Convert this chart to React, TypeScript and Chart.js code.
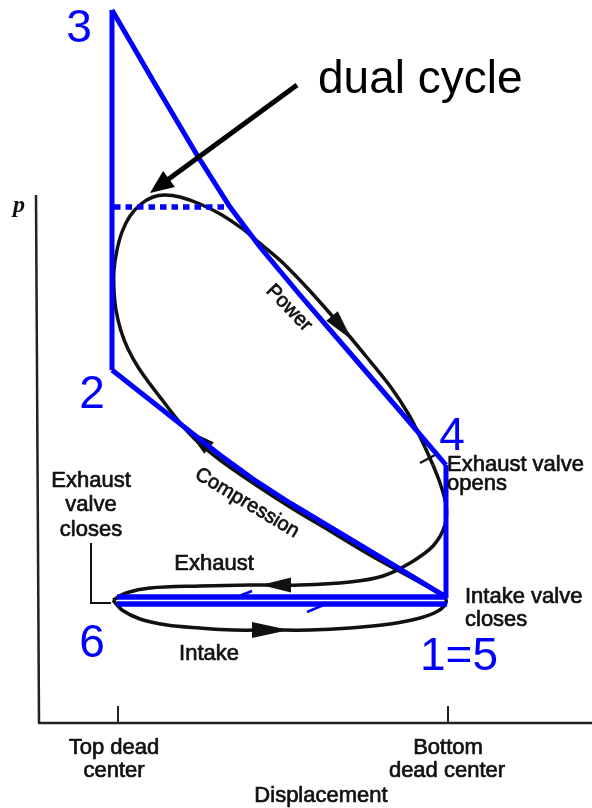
import React, { useEffect, useRef } from "react";
import { Chart, registerables } from "chart.js";

Chart.register(...registerables);

const W = 592;
const H = 808;

// ---- data (x = displacement, y = pressure; screen-like units, y axis reversed) ----
const blueCompression = [[446, 597], [390, 563], [330, 527], [290, 503], [253, 479], [220, 455], [183, 426], [150, 400], [112, 370]];
const blueConstVolume = [[112, 370], [112, 10]];
const blueExpansion = [[112, 10], [155, 84], [197, 155], [230, 207], [260, 247], [300, 295], [350, 353], [400, 411], [446, 465]];
const blueBlowdown = [[446, 465], [446, 598]];
const blueConstPressure = [[114, 207], [229, 207]];
const blueExhaustStroke = [[117, 597], [447, 597]];
const blueIntakeStroke = [[117, 604], [447, 604]];
const blueExhaustTick = [[252, 591], [234, 598]];
const blueIntakeTick = [[307, 612], [326, 604]];

const realIntake = [[113, 600], [122, 610], [140, 619], [167, 625], [200, 628], [233, 630], [270, 630], [310, 630], [350, 628], [390, 624], [420, 618], [438, 611], [446, 603], [445, 595]];
const realCompression = [[445, 595], [434, 590], [410, 577], [370, 555], [330, 531], [290, 507], [253, 483], [220, 460], [198, 442], [181, 424], [163, 401], [150, 384], [138, 367], [128, 349], [121, 331], [116, 310], [114, 290], [114, 270], [117, 250], [122, 232], [130, 216], [141, 204], [153, 197], [165, 195], [180, 197], [200, 204], [222, 215], [243, 229]];
const realPower = [[243, 229], [262, 245], [283, 263], [310, 291], [340, 325], [365, 355], [390, 386], [409, 415], [423, 443], [433, 465]];
const realExhaust = [[433, 465], [440, 483], [446, 505], [445, 525], [433, 546], [410, 563], [383, 576], [350, 582], [300, 585], [250, 585], [200, 586], [150, 588], [126, 593], [113, 600]];

const xAxisLine = [[38, 723], [592, 723]];
const yAxisLine = [[36, 195], [39, 723]];
const tdcTick = [[118, 706], [118, 723]];
const bdcTick = [[448, 706], [448, 723]];
const exhaustClosesLeader = [[91, 543], [91, 603], [111, 603]];
const exhaustOpensMark = [[420, 463], [435, 455]];
const pointerLine = [[297, 85], [166, 181]];

// arrowheads along the curves: tip / tail point, half width
const curveArrowTips = [[352, 340], [187, 430], [261, 585], [289, 630]];
const curveArrowTails = [[332, 316], [209, 448], [291, 585], [252, 630]];
const curveArrowHalfWidth = [7.5, 7.5, 7.5, 8];
const pointerTip = [150, 193];
const pointerTail = [169, 179];

// text labels
const stateLabels = ["3", "2", "4", "6", "1=5"];
const stateLabelAt = [[79, 42], [92, 408], [452, 450], [92, 657], [459, 670]];
const processLabels = ["Power", "Compression"];
const processLabelAt = [[289, 308], [247, 503]];
const processLabelAngle = [46, 31];
const strokeLabels = ["Exhaust", "Intake"];
const strokeLabelAt = [[214, 570], [209, 660]];
const valveClosesLines = ["Exhaust", "valve", "closes"];
const valveClosesAt = [[91, 487], [91, 511], [91, 536]];
const valveOpensLines = ["Exhaust valve", "opens"];
const valveOpensAt = [[447, 471], [447, 490]];
const intakeClosesLines = ["Intake valve", "closes"];
const intakeClosesAt = [[465, 603], [465, 626]];
const tickLabelLines = ["Top dead", "center", "Bottom", "dead center"];
const tickLabelAt = [[114, 754], [114, 777], [448, 754], [447, 777]];
const xTitle = "Displacement";
const xTitleAt = [321, 802];
const yTitle = "p";
const yTitleAt = [19, 212];
const calloutText = "dual cycle";
const calloutAt = [318, 93];

const BLUE = "#0000ff";
const INK = "#111111";
const SANS = '"Liberation Sans", Arial, Helvetica, sans-serif';

const pts = (a: number[][]) => a.map(([x, y]) => ({ x, y }));

function lineDs(data: number[][], color: string, width: number, extra: any = {}) {
  return {
    data: pts(data),
    showLine: true,
    borderColor: color,
    backgroundColor: color,
    borderWidth: width,
    pointRadius: 0,
    pointHoverRadius: 0,
    fill: false,
    tension: 0,
    borderCapStyle: "butt",
    borderJoinStyle: "miter",
    ...extra,
  };
}

const overlay = {
  id: "overlay",
  beforeDatasetsDraw(chart: any) {
    const { ctx, scales } = chart;
    const sx = (v: number) => scales.x.getPixelForValue(v);
    const sy = (v: number) => scales.y.getPixelForValue(v);
    ctx.save();
    ctx.fillStyle = INK;
    curveArrowTips.forEach((tip, i) => {
      const tail = curveArrowTails[i];
      const tx = sx(tip[0]), ty = sy(tip[1]);
      const bx = sx(tail[0]), by = sy(tail[1]);
      const dx = tx - bx, dy = ty - by;
      const len = Math.hypot(dx, dy);
      const nx = -dy / len, ny = dx / len;
      const w = curveArrowHalfWidth[i];
      ctx.beginPath();
      ctx.moveTo(tx, ty);
      ctx.lineTo(bx + nx * w, by + ny * w);
      ctx.lineTo(bx - nx * w, by - ny * w);
      ctx.closePath();
      ctx.fill();
    });
    ctx.restore();
  },
  afterDatasetsDraw(chart: any) {
    const { ctx, scales } = chart;
    const sx = (v: number) => scales.x.getPixelForValue(v);
    const sy = (v: number) => scales.y.getPixelForValue(v);
    ctx.save();
    // pointer arrowhead
    {
      const tx = sx(pointerTip[0]), ty = sy(pointerTip[1]);
      const bx = sx(pointerTail[0]), by = sy(pointerTail[1]);
      const dx = tx - bx, dy = ty - by;
      const len = Math.hypot(dx, dy);
      const nx = -dy / len, ny = dx / len;
      const w = 10;
      ctx.fillStyle = "#000";
      ctx.beginPath();
      ctx.moveTo(tx, ty);
      ctx.lineTo(bx + nx * w, by + ny * w);
      ctx.lineTo(bx - nx * w, by - ny * w);
      ctx.closePath();
      ctx.fill();
    }
    const text = (t: string, at: number[], font: string, color: string, align: string, rot = 0, baseline = "alphabetic", heavy = 0) => {
      ctx.save();
      ctx.translate(sx(at[0]), sy(at[1]));
      if (rot) ctx.rotate((rot * Math.PI) / 180);
      ctx.font = font;
      ctx.fillStyle = color;
      ctx.textAlign = align;
      ctx.textBaseline = baseline;
      ctx.fillText(t, 0, 0);
      if (heavy) {
        ctx.strokeStyle = color;
        ctx.lineWidth = heavy;
        ctx.lineJoin = "round";
        ctx.strokeText(t, 0, 0);
      }
      ctx.restore();
    };
    const f22 = `22px ${SANS}`;
    const hv = 0.7;
    stateLabels.forEach((t, i) => text(t, stateLabelAt[i], `46px ${SANS}`, BLUE, "center"));
    processLabels.forEach((t, i) => text(t, processLabelAt[i], `20px ${SANS}`, INK, "center", processLabelAngle[i], "middle", hv));
    strokeLabels.forEach((t, i) => text(t, strokeLabelAt[i], f22, INK, "center", 0, "alphabetic", hv));
    valveClosesLines.forEach((t, i) => text(t, valveClosesAt[i], f22, INK, "center", 0, "alphabetic", hv));
    valveOpensLines.forEach((t, i) => text(t, valveOpensAt[i], f22, INK, "left", 0, "alphabetic", hv));
    intakeClosesLines.forEach((t, i) => text(t, intakeClosesAt[i], f22, INK, "left", 0, "alphabetic", hv));
    tickLabelLines.forEach((t, i) => text(t, tickLabelAt[i], f22, INK, "center", 0, "alphabetic", hv));
    text(xTitle, xTitleAt, f22, INK, "center", 0, "alphabetic", hv);
    text(yTitle, yTitleAt, `italic bold 24px "Liberation Serif", "Times New Roman", serif`, INK, "center");
    text(calloutText, calloutAt, `46px ${SANS}`, "#000", "left");
    ctx.restore();
  },
};

export default function App() {
  const ref = useRef<HTMLCanvasElement | null>(null);
  useEffect(() => {
    if (!ref.current) return;
    const curve = { tension: 0.35, borderJoinStyle: "round" };
    const datasets: any[] = [
      lineDs(pointerLine, "#000", 5),
      lineDs(blueExhaustTick, BLUE, 2.5),
      lineDs(blueIntakeTick, BLUE, 2.5),
      lineDs(blueExhaustStroke, BLUE, 5.5),
      lineDs(blueIntakeStroke, BLUE, 5.5),
      lineDs(blueConstPressure, BLUE, 5.5, { borderDash: [6.5, 5] }),
      lineDs(blueCompression, BLUE, 5),
      lineDs(blueConstVolume, BLUE, 5),
      lineDs(blueExpansion, BLUE, 5),
      lineDs(blueBlowdown, BLUE, 5),
      lineDs(realIntake, INK, 3.5, curve),
      lineDs(realCompression, INK, 3.5, curve),
      lineDs(realPower, INK, 3.5, curve),
      lineDs(realExhaust, INK, 3.5, curve),
      lineDs(exhaustOpensMark, INK, 2.5),
      lineDs(exhaustClosesLeader, INK, 2),
      lineDs(xAxisLine, "#222", 2.5),
      lineDs(yAxisLine, "#222", 2.5),
      lineDs(tdcTick, "#222", 2),
      lineDs(bdcTick, "#222", 2),
    ];
    const chart = new Chart(ref.current, {
      type: "scatter",
      data: { datasets },
      options: {
        responsive: false,
        maintainAspectRatio: false,
        animation: false,
        devicePixelRatio: 1,
        events: [],
        layout: { padding: 0 },
        plugins: { legend: { display: false }, tooltip: { enabled: false }, title: { display: false } },
        scales: {
          x: { type: "linear", min: 0, max: W, display: false },
          y: { type: "linear", min: 0, max: H, reverse: true, display: false },
        },
      },
      plugins: [overlay],
    } as any);
    return () => chart.destroy();
  }, []);
  return (
    <div style={{ position: "absolute", left: 0, top: 0, width: W, height: H, background: "#fff" }}>
      <canvas ref={ref} width={W} height={H} style={{ display: "block", width: W, height: H }} />
    </div>
  );
}
